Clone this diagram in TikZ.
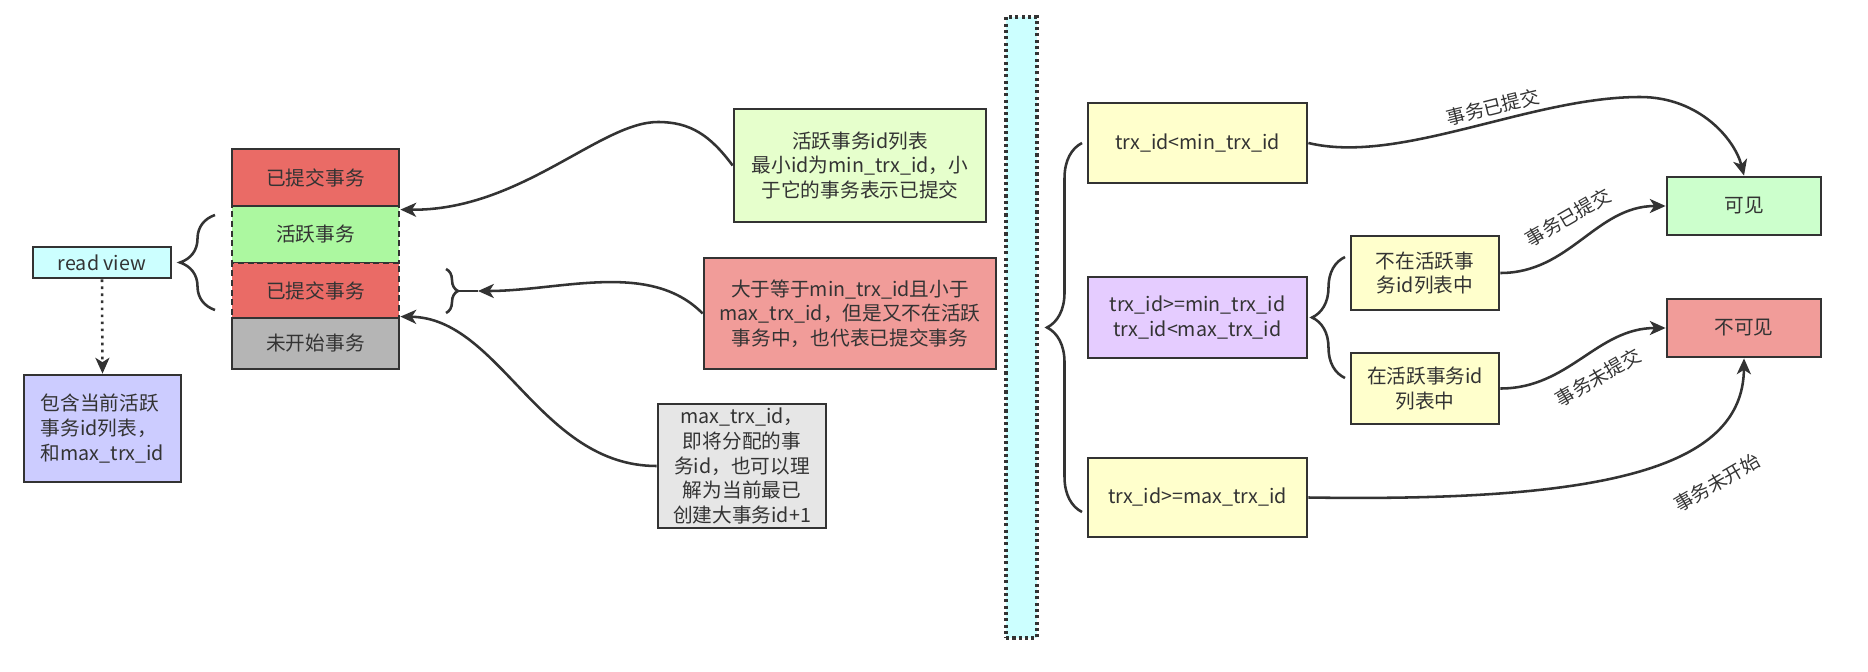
\documentclass[tikz,border=0pt]{standalone}
\usepackage{fontspec}
\setmainfont{Noto Sans CJK SC}
\usetikzlibrary{arrows.meta,decorations.pathreplacing}
\definecolor{trait}{HTML}{333333}
\definecolor{rouge}{HTML}{EA6B66}
\definecolor{actif}{HTML}{ACF8A0}
\definecolor{gris}{HTML}{B5B5B5}
\definecolor{cyanclair}{HTML}{CCFFFF}
\definecolor{mauve}{HTML}{CCCCFF}
\definecolor{vertclair}{HTML}{E6FFCC}
\definecolor{rose}{HTML}{F19C99}
\definecolor{grisclair}{HTML}{E6E6E6}
\definecolor{jaune}{HTML}{FFFFCC}
\definecolor{lilas}{HTML}{E5CCFF}
\definecolor{vert}{HTML}{CCFFCC}
\tikzset{
	boite/.style={draw=trait, line width=1.6pt, text=trait, align=center, inner sep=0pt,
		font=\fontsize{11.2pt}{14pt}\selectfont},
	fleche/.style={draw=trait, line width=1.45pt, -{Stealth[length=9pt,width=8pt,inset=2.5pt]}},
	accolade/.style={draw=trait, line width=1.45pt, decorate},
	etiq/.style={text=trait, inner sep=1pt, font=\fontsize{10.8pt}{12pt}\selectfont},
}
\begin{document}
\begin{tikzpicture}[x=0.02cm, y=-0.02cm]
	\fill[white] (0,0) rectangle (1868,672);
	\useasboundingbox (0,0) rectangle (1868,672);
	%read view
	\node[boite, fill=cyanclair, minimum width=2.76cm, minimum height=0.62cm] (rv) at (102,262.5) {read view};
	\node[boite, fill=mauve, align=left, minimum width=3.14cm, minimum height=2.14cm] (pv) at (102.5,428.5) {包含当前活跃\\事务id列表，\\和max\_trx\_id};
	\draw[fleche, dash pattern=on 1.5pt off 2.5pt] (rv.south) -- (pv.north);
	%la pile des transactions
	\node[boite, fill=actif, dash pattern=on 3.5pt off 2pt, minimum width=3.34cm, minimum height=1.14cm] (act) at (315.5,234.5) {活跃事务};
	\node[boite, fill=rouge, dash pattern=on 3.5pt off 2pt, minimum width=3.34cm, minimum height=1.10cm] (c2) at (315.5,290.5) {已提交事务};
	\node[boite, fill=rouge, minimum width=3.34cm, minimum height=1.14cm] (c1) at (315.5,177.5) {已提交事务};
	\node[boite, fill=gris, minimum width=3.34cm, minimum height=1.02cm] (ns) at (315.5,343.5) {未开始事务};
	\draw[accolade, decoration={brace, amplitude=0.7cm}] (215,310) -- (215,215);
	%fin
	%les notes
	\node[boite, fill=vertclair, minimum width=5.04cm, minimum height=2.26cm] (gn) at (860,165.5) {活跃事务id列表\\最小id为min\_trx\_id，小\\于它的事务表示已提交};
	\node[boite, fill=rose, minimum width=5.84cm, minimum height=2.22cm] (rn) at (850,313.5) {大于等于min\_trx\_id且小于\\max\_trx\_id，但是又不在活跃\\事务中，也代表已提交事务};
	\node[boite, fill=grisclair, minimum width=3.36cm, minimum height=2.48cm] (gy) at (742,466) {max\_trx\_id，\\即将分配的事\\务id，也可以理\\解为当前最已\\创建大事务id+1};
	\draw[accolade, decoration={brace, amplitude=0.24cm}] (446,269) -- (446,313);
	\coordinate (bt) at (478,291);
	\draw[draw=trait, line width=1.45pt] (458,291) -- (bt);
	\draw[fleche] (gn.west) .. controls (710,135) and (690,122) .. (658,122) .. controls (600,122) and (520,211) .. ([yshift=-0.1cm]act.north east);
	\draw[fleche] (rn.west) .. controls (650,260) and (560,291) .. (bt);
	\draw[fleche] (gy.west) .. controls (540,466) and (500,318) .. (ns.north east);
	%fin
	%separation
	\node[draw=trait, fill=cyanclair, line width=1.8pt, dash pattern=on 1.8pt off 1.8pt, minimum width=0.62cm, minimum height=12.42cm, inner sep=0pt] (sep) at (1021.5,327.5) {};
	%les cas
	\draw[accolade, decoration={brace, amplitude=0.7cm}] (1082,512) -- (1082,143);
	\node[boite, fill=jaune, minimum width=4.38cm, minimum height=1.60cm] (t1) at (1197.5,143) {trx\_id<min\_trx\_id};
	\node[boite, fill=lilas, minimum width=4.38cm, minimum height=1.62cm] (t2) at (1197.5,317.5) {trx\_id>=min\_trx\_id\\trx\_id<max\_trx\_id};
	\node[boite, fill=jaune, minimum width=4.38cm, minimum height=1.58cm] (t3) at (1197.5,497.5) {trx\_id>=max\_trx\_id};
	\draw[accolade, decoration={brace, amplitude=0.66cm}] (1345,378) -- (1345,257);
	\node[boite, fill=jaune, minimum width=2.96cm, minimum height=1.48cm] (n1) at (1425,273) {不在活跃事\\务id列表中};
	\node[boite, fill=jaune, minimum width=2.96cm, minimum height=1.42cm] (n2) at (1425,388.5) {在活跃事务id\\列表中};
	\node[boite, fill=vert, minimum width=3.08cm, minimum height=1.16cm] (kj) at (1744,206) {可见};
	\node[boite, fill=rose, minimum width=3.08cm, minimum height=1.16cm] (bkj) at (1744,328) {不可见};
	%fleches
	\draw[fleche] (t1.east) .. controls (1400,165) and (1530,97) .. (1640,97) .. controls (1700,97) and (1735,140) .. (kj.north);
	\draw[fleche] (n1.east) to[out=0, in=180] (kj.west);
	\draw[fleche] (n2.east) to[out=0, in=180] (bkj.west);
	\draw[fleche] (t3.east) .. controls (1600,502) and (1743,470) .. (bkj.south);
	\node[etiq, rotate=14] (l1) at (1493,107) {事务已提交};
	\node[etiq, rotate=30] (l2) at (1568,217) {事务已提交};
	\node[etiq, rotate=30] (l3) at (1598,377) {事务未提交};
	\node[etiq, rotate=30] (l4) at (1717,483) {事务未开始};
	%fin
\end{tikzpicture}
\end{document}
